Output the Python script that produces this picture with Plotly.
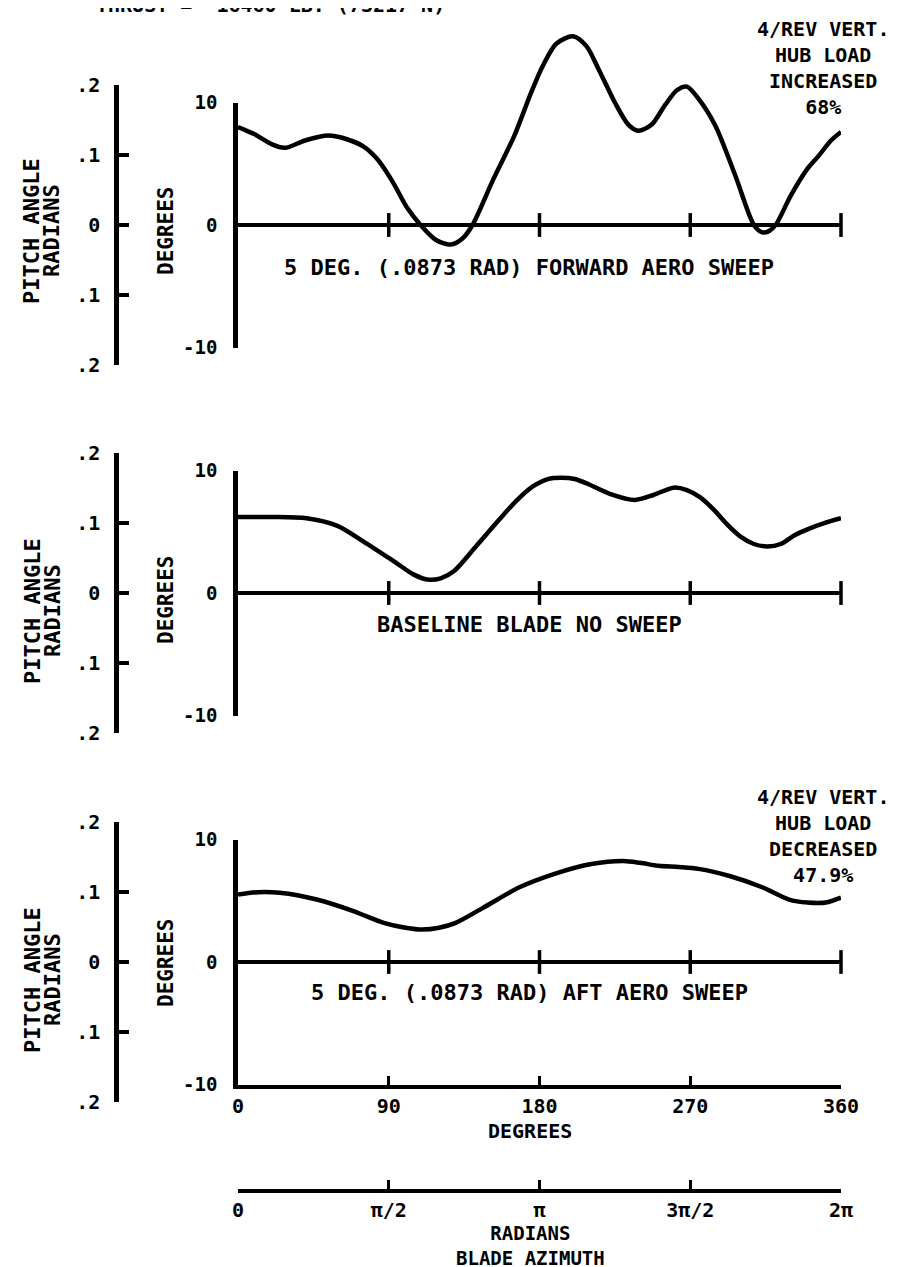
import math
import plotly.graph_objects as go

# ---------------- data ----------------
az_fwd = [0, 10, 20, 28, 40, 54, 65, 75, 83, 92, 101, 109, 118, 127, 134, 140, 152, 165, 175, 182,
          190, 200, 208, 215, 225, 233, 239, 247, 255, 262, 268, 275, 285, 297, 308, 313, 317, 321,
          330, 340, 347, 354, 360]
pitch_fwd = [8.0, 7.4, 6.6, 6.3, 6.9, 7.3, 7.0, 6.4, 5.4, 3.6, 1.4, 0.0, -1.2, -1.6, -1.1, 0.0, 3.6,
             7.3, 10.8, 13.0, 14.8, 15.4, 14.6, 12.8, 10.0, 8.2, 7.7, 8.2, 9.8, 11.0, 11.3, 10.3, 8.1,
             4.0, 0.0, -0.6, -0.5, 0.0, 2.4, 4.6, 5.7, 6.9, 7.6]

az_base = [0, 20, 41, 59, 75, 94, 105, 113, 121, 129, 142, 156, 166, 176, 185, 193, 201, 209, 222,
           237, 248, 260, 268, 276, 284, 292, 300, 308, 316, 324, 332, 340, 350, 360]
pitch_base = [6.2, 6.2, 6.1, 5.5, 4.2, 2.5, 1.5, 1.1, 1.2, 1.8, 3.8, 6.0, 7.5, 8.7, 9.3, 9.4, 9.3,
              8.9, 8.1, 7.6, 8.0, 8.6, 8.4, 7.8, 6.8, 5.6, 4.6, 4.0, 3.8, 4.0, 4.7, 5.2, 5.7, 6.1]

az_aft = [0, 12, 25, 47, 68, 87, 100, 110, 120, 130, 146, 168, 189, 211, 230, 240, 251, 263, 275,
          294, 313, 329, 340, 351, 360]
pitch_aft = [5.5, 5.7, 5.65, 5.1, 4.2, 3.2, 2.8, 2.65, 2.8, 3.2, 4.4, 6.1, 7.2, 8.0, 8.25, 8.1, 7.85,
             7.75, 7.6, 7.0, 6.1, 5.1, 4.85, 4.85, 5.25]

deg_ticks = [0, 90, 180, 270, 360]
rad_tick_vals = [0, math.pi / 2, math.pi, 3 * math.pi / 2, 2 * math.pi]
rad_tick_text = ["0", "π/2", "π", "3π/2", "2π"]
pitch_deg_ticks = [-10, 0, 10]
pitch_deg_text = ["-10", "0", "10"]
pitch_rad_ticks = [-0.2, -0.1, 0.0, 0.1, 0.2]
pitch_rad_text = [".2", ".1", "0", ".1", ".2"]

panel_labels = ["5 DEG. (.0873 RAD) FORWARD AERO SWEEP",
                "BASELINE BLADE NO SWEEP",
                "5 DEG. (.0873 RAD) AFT AERO SWEEP"]
hub_notes = ["4/REV VERT.<br>HUB LOAD<br>INCREASED<br>68%",
             None,
             "4/REV VERT.<br>HUB LOAD<br>DECREASED<br>47.9%"]
header = "THRUST =  16460 LB. (73217 N)"

# ---------------- layout geometry (pixels) ----------------
W, H = 908, 1267
FONT = "DejaVu Sans Mono"
X_LEFT, X_RIGHT = 230, 833
RAD_X = 108
S = 12.25                      # pixels per degree of pitch
ZEROS = [217, 585, 954]        # pixel row of zero pitch in each panel
LABEL_Y = [260, 616, 984]
PITCH_Y = [223, 603, 972]
DEGT_Y = [223, 592, 955]
NOTE_Y = [60, None, 828]
DATA_LO, DATA_HI = -12, 17


def fx(p):
    return p / W


def fy(p):
    return 1 - p / H


def nm(prefix, n):
    return prefix if n == 1 else f"{prefix}{n}"


def bold(t):
    return "<b>" + t.replace("<br>", "</b><br><b>") + "</b>"


fig = go.Figure()
layout = {}
annotations = []
series = [(az_fwd, pitch_fwd), (az_base, pitch_base), (az_aft, pitch_aft)]
xdom = [fx(X_LEFT), fx(X_RIGHT)]
line_col = "black"
tickfont = dict(family=FONT, size=20, color=line_col, weight="bold")

for i, (az, pitch) in enumerate(series):
    k = i + 1
    z = ZEROS[i]
    xd, yd, ydeg, yrad = nm("x", k), nm("y", k), nm("y", k + 3), nm("y", k + 6)

    # data axes
    layout[nm("xaxis", k)] = dict(domain=xdom, range=[0, 360], anchor=yd, showline=False,
                                  showticklabels=False, ticks="", showgrid=False, zeroline=False,
                                  fixedrange=True)
    layout[nm("yaxis", k)] = dict(domain=[fy(z + (-DATA_LO) * S), fy(z - DATA_HI * S)],
                                  range=[DATA_LO, DATA_HI], anchor=xd, showline=False,
                                  showticklabels=False, ticks="", showgrid=False,
                                  zeroline=True, zerolinecolor=line_col, zerolinewidth=3.5)
    # degree scale
    layout[nm("yaxis", k + 3)] = dict(domain=[fy(z + 10 * S), fy(z - 10 * S)], range=[-10, 10],
                                      anchor=xd, showline=True, linecolor=line_col, linewidth=4.5,
                                      ticks="inside", ticklen=13, tickwidth=4, tickcolor=line_col,
                                      tickvals=pitch_deg_ticks, ticktext=pitch_deg_text,
                                      ticklabelstandoff=12, showgrid=False, zeroline=False,
                                      tickfont=dict(tickfont, size=19))
    # radian scale
    half = 0.2 * 180 / math.pi * S
    layout[nm("yaxis", k + 6)] = dict(domain=[fy(z + half), fy(z - half)], range=[-0.2, 0.2],
                                      anchor="free", position=fx(RAD_X), showline=True,
                                      linecolor=line_col, linewidth=4.5, ticks="inside", ticklen=10,
                                      tickwidth=4, tickcolor=line_col, tickvals=pitch_rad_ticks,
                                      ticktext=pitch_rad_text, ticklabelstandoff=10,
                                      showgrid=False, zeroline=False, tickfont=tickfont)

    fig.add_trace(go.Scatter(x=az, y=pitch, mode="lines", xaxis=xd, yaxis=yd,
                             line=dict(color=line_col, width=4.5, shape="spline", smoothing=0.8),
                             showlegend=False, hoverinfo="skip"))
    fig.add_trace(go.Scatter(x=deg_ticks[1:], y=[0] * (len(deg_ticks) - 1), mode="markers",
                             xaxis=xd, yaxis=yd, cliponaxis=False,
                             marker=dict(symbol="line-ns", size=17, color=line_col,
                                         line=dict(width=3.5, color=line_col)),
                             showlegend=False, hoverinfo="skip"))
    for ya in (ydeg, yrad):
        fig.add_trace(go.Scatter(x=[], y=[], xaxis=xd, yaxis=ya, showlegend=False,
                                 hoverinfo="skip"))

    annotations.append(dict(text=bold(panel_labels[i]), x=fx(521), y=fy(LABEL_Y[i]), xref="paper",
                            yref="paper", showarrow=False, xanchor="center", yanchor="middle",
                            font=dict(family=FONT, size=22, color=line_col)))
    annotations.append(dict(text=bold("PITCH ANGLE"), x=fx(24), y=fy(PITCH_Y[i]), xref="paper",
                            yref="paper", showarrow=False, textangle=-90, xanchor="center",
                            yanchor="middle", font=dict(family=FONT, size=22, color=line_col)))
    annotations.append(dict(text=bold("RADIANS"), x=fx(44), y=fy(PITCH_Y[i]), xref="paper",
                            yref="paper", showarrow=False, textangle=-90, xanchor="center",
                            yanchor="middle", font=dict(family=FONT, size=22, color=line_col)))
    annotations.append(dict(text=bold("DEGREES"), x=fx(158), y=fy(DEGT_Y[i]), xref="paper",
                            yref="paper", showarrow=False, textangle=-90, xanchor="center",
                            yanchor="middle", font=dict(family=FONT, size=21, color=line_col)))
    if hub_notes[i]:
        annotations.append(dict(text=bold(hub_notes[i]), x=fx(815), y=fy(NOTE_Y[i]), xref="paper",
                                yref="paper", showarrow=False, align="center", xanchor="center",
                                yanchor="middle", font=dict(family=FONT, size=20, color=line_col)))

# bottom degree scale of the last panel (at -10 deg)
layout["xaxis4"] = dict(domain=xdom, range=[0, 360], anchor="y6", side="bottom", showline=True,
                        linecolor=line_col, linewidth=4, ticks="inside", ticklen=9, tickwidth=3,
                        tickcolor=line_col, tickvals=deg_ticks, ticktext=[str(v) for v in deg_ticks],
                        showgrid=False, zeroline=False, tickfont=tickfont)
# radian azimuth scale
layout["xaxis5"] = dict(domain=xdom, range=[0, 2 * math.pi], anchor="free", position=fy(1183),
                        side="bottom", showline=True, linecolor=line_col, linewidth=4,
                        ticks="inside", ticklen=9, tickwidth=3, tickcolor=line_col,
                        tickvals=rad_tick_vals, ticktext=rad_tick_text, showgrid=False,
                        zeroline=False, tickfont=tickfont)
fig.add_trace(go.Scatter(x=[], y=[], xaxis="x4", yaxis="y6", showlegend=False, hoverinfo="skip"))
fig.add_trace(go.Scatter(x=[], y=[], xaxis="x5", yaxis="y6", showlegend=False, hoverinfo="skip"))

for txt, ypix, fs in (("DEGREES", 1123, 20), ("RADIANS<br>BLADE AZIMUTH", 1237, 19)):
    annotations.append(dict(text=bold(txt), x=fx(522), y=fy(ypix), xref="paper", yref="paper",
                            showarrow=False, xanchor="center", yanchor="middle", align="center",
                            font=dict(family=FONT, size=fs, color=line_col)))

annotations.append(dict(text=bold(header), x=fx(262), y=fy(11), xref="paper", yref="paper",
                        showarrow=False, xanchor="center", yanchor="bottom",
                        font=dict(family=FONT, size=20, color=line_col)))

fig.update_layout(width=W, height=H, autosize=False, margin=dict(l=0, r=0, t=0, b=0, pad=0),
                  paper_bgcolor="white", plot_bgcolor="rgba(0,0,0,0)", template="none",
                  font=dict(family=FONT, color=line_col), annotations=annotations,
                  showlegend=False, **layout)
fig.write_html("out.html")
